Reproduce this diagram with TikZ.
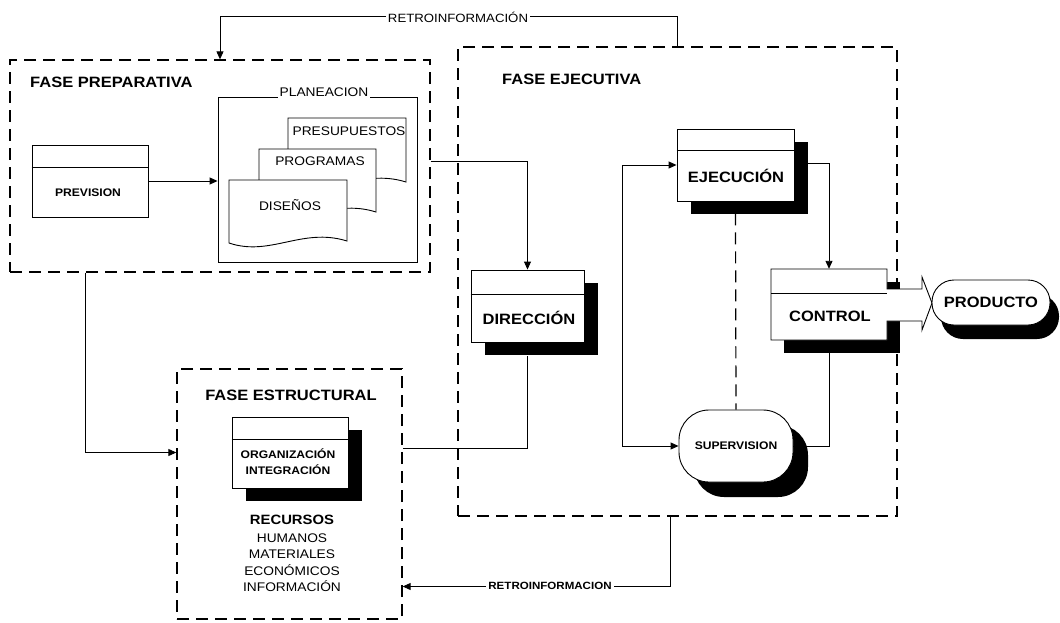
\documentclass[tikz,border=0pt]{standalone}
\usepackage{fontspec}
\setmainfont{Liberation Sans}[FakeStretch=1.1]
\usetikzlibrary{arrows.meta,shadows}
\begin{document}
\begin{tikzpicture}[x=1pt,y=-1pt,
  phase/.style={draw, dash pattern=on 12pt off 7pt, line width=1.3pt, inner sep=0pt},
  box/.style={draw, fill=white, line width=0.9pt, inner sep=0pt},
  shad/.style={drop shadow={shadow xshift=14pt,shadow yshift=-13pt,fill=black,opacity=1}},
  conn/.style={line width=0.9pt},
  arr/.style={conn, -{Triangle[length=8pt,width=7pt]}},
  biarr/.style={conn, {Triangle[length=8pt,width=7pt]}-{Triangle[length=8pt,width=7pt]}},
  title/.style={inner sep=0pt, font=\fontsize{15}{18}\selectfont\bfseries},
  lab/.style={inner sep=0pt, font=\fontsize{15}{18}\selectfont\bfseries},
  sm/.style={inner sep=0pt, font=\fontsize{11}{13}\selectfont\bfseries},
  doctxt/.style={inner sep=0pt, font=\fontsize{12.5}{15}\selectfont},
  rec/.style={inner sep=0pt, font=\fontsize{13.5}{16}\selectfont\bfseries},
  res/.style={inner sep=0pt, font=\fontsize{12.5}{15}\selectfont},
  retroa/.style={fill=white, inner sep=1.5pt, font=\fontsize{12}{14}\selectfont},
  retrob/.style={fill=white, inner sep=2pt, font=\fontsize{10.5}{13}\selectfont\bfseries},
  dashconn/.style={line width=1.2pt, dash pattern=on 12pt off 7pt}
]
\useasboundingbox (0,0) rectangle (1060,622);

% ---------- phase frames ----------
\node[phase, minimum width=420pt, minimum height=212pt] (prep) at (220,166) {};
\node[phase, minimum width=439pt, minimum height=469pt] (ejec) at (677.5,281.5) {};
\node[phase, minimum width=225pt, minimum height=250pt] (estr) at (289.5,494) {};

\node[title, anchor=west] (tprep) at (30,82) {FASE PREPARATIVA};
\node[title, anchor=west] (tejec) at (502,79) {FASE EJECUTIVA};
\node[title] (testr) at (291,395) {FASE ESTRUCTURAL};

% ---------- PREVISION ----------
\node[box, minimum width=116pt, minimum height=72pt] (prev) at (90,181) {};
\draw[conn] ([yshift=-23pt]prev.north west) -- ([yshift=-23pt]prev.north east);
\node[sm] (tprev) at (88,193) {PREVISION};

% ---------- PLANEACION ----------
\node[box, fill=none, minimum width=199pt, minimum height=165pt] (plan) at (317.5,179.5) {};
\node[doctxt, fill=white, inner sep=1.5pt, anchor=base] (tplan) at (324,96) {PLANEACION};

\newcommand{\docshape}[4]{%
  \draw[box] (#1,#2) -- (#1,#4)
     .. controls ({#1+0.35*(#3-#1)},{#4+14}) and ({#1+0.62*(#3-#1)},{#4-16}) .. (#3,{#4-2})
     -- (#3,#2) -- cycle;}
\docshape{288}{118}{406}{184}
\node[doctxt] (tpres) at (349,131) {PRESUPUESTOS};
\docshape{259}{149}{376}{214}
\node[doctxt] (tprog) at (320,161) {PROGRAMAS};
\docshape{229}{180}{347}{243}
\node[doctxt] (tdis) at (290,205) {DISEÑOS};

\draw[arr] (prev.east) -- (prev.east -| plan.west);

% ---------- ORGANIZACION ----------
\node[box, shad, minimum width=116pt, minimum height=71pt] (org) at (290,452.5) {};
\draw[conn] ([yshift=-23pt]org.north west) -- ([yshift=-23pt]org.north east);
\node[sm] (torg) at (288,454) {ORGANIZACIÓN};
\node[sm] (tint) at (288,470) {INTEGRACIÓN};

\node[rec] (trec) at (292,520) {RECURSOS};
\node[res] (thum) at (292,538) {HUMANOS};
\node[res] (tmat) at (292,554) {MATERIALES};
\node[res] (teco) at (292,570) {ECONÓMICOS};
\node[res] (tinf) at (292,586) {INFORMACIÓN};

% ---------- EJECUCION ----------
\node[box, shad, minimum width=117pt, minimum height=72pt] (ejecu) at (735.5,165) {};
\draw[conn] ([yshift=-22pt]ejecu.north west) -- ([yshift=-22pt]ejecu.north east);
\node[lab] (tejecu) at (736,176) {EJECUCIÓN};

% ---------- DIRECCION ----------
\node[box, shad, minimum width=113pt, minimum height=72pt] (dir) at (527.5,306) {};
\draw[conn] ([yshift=-25pt]dir.north west) -- ([yshift=-25pt]dir.north east);
\node[lab] (tdir) at (529,318) {DIRECCIÓN};

% ---------- CONTROL ----------
\node[inner sep=0pt, minimum width=116pt, minimum height=71pt] (ctrl) at (829,304.5) {};
\fill[black] (784,282) rectangle (900,353);
\draw[box] (771,269) -- (887,269) -- (887,289) -- (922,289) -- (922,277) -- (932,303)
   -- (922,330) -- (922,321) -- (887,321) -- (887,340) -- (771,340) -- cycle;
\draw[conn] (771,293) -- (887,293);
\node[lab] (tctrl) at (830,316) {CONTROL};

% ---------- PRODUCTO ----------
\node[box, drop shadow={shadow xshift=9pt,shadow yshift=-14pt,fill=black,opacity=1},
      rounded corners=22pt, minimum width=118pt, minimum height=45pt, lab] (prod) at (991,302.5) {PRODUCTO};

% ---------- SUPERVISION ----------
\node[box, drop shadow={shadow xshift=15pt,shadow yshift=-15pt,fill=black,opacity=1},
      rounded corners=30pt, minimum width=114pt, minimum height=72pt, sm] (sup) at (736,446) {SUPERVISION};

% ---------- connectors ----------
\draw[arr] ([xshift=76pt]prep.south west) |- ([yshift=41.5pt]estr.west);
\draw[arr] ([yshift=5pt]prep.east) -| (dir.north);
\draw[conn] ([yshift=-14pt]dir.south) |- ([yshift=45.5pt]estr.east);
\draw[biarr] (ejecu.west) -| ([xshift=-56pt]sup.west) -- (sup.west);
\draw[arr] ([xshift=14pt,yshift=2pt]ejecu.east) -| (ctrl.north);
\draw[dashconn] ([yshift=-12pt]ejecu.south) -- (sup.north);
\draw[conn] ([yshift=-13pt]ctrl.south) |- (sup.east);

\draw[arr] (ejec.north) -- ++(0,-30) -| (prep.north);
\node[retroa] (lretroa) at (458,17) {RETROINFORMACIÓN};
\draw[arr] ([xshift=-7.5pt]ejec.south) |- ([yshift=-92.5pt]estr.east);
\node[retrob] (lretrob) at (550,586) {RETROINFORMACION};

\end{tikzpicture}
\end{document}
